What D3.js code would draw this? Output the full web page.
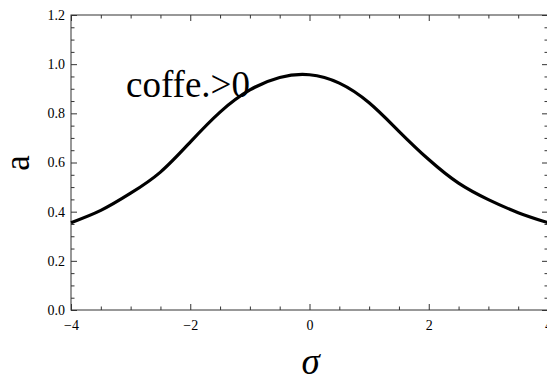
<!DOCTYPE html>
<html>
<head>
<meta charset="utf-8">
<script src="https://cdn.jsdelivr.net/npm/d3@7"></script>
<style>
  html, body { margin: 0; padding: 0; background: #fff; }
  svg { display: block; }
</style>
</head>
<body>
<svg id="chart" width="547" height="381"></svg>
<script>
// sigma samples and the curve a(sigma)
const sigmaValues = [-4, -3.5, -3, -2.5, -2, -1.5, -1, -0.5, 0, 0.5, 1, 1.5, 2, 2.5, 3, 3.5, 4];
const aValues     = [0.355, 0.405, 0.475, 0.561, 0.683, 0.805, 0.895, 0.946, 0.957, 0.923, 0.843, 0.727, 0.612, 0.516, 0.449, 0.396, 0.355];

const xMajorTicks = [-4, -2, 0, 2, 4];
const yMajorTicks = [0, 0.2, 0.4, 0.6, 0.8, 1.0, 1.2];
const xDomain = [-4, 4];
const yDomain = [0, 1.2];

const annotation = "coffe.>0";
const xTitle = "σ";
const yTitle = "a";

const serif = "'Liberation Serif', 'Times New Roman', Times, serif";

const svg = d3.select("#chart").attr("font-family", serif);
const plotLeft = 71, plotRight = 548, plotTop = 15, plotBottom = 310;

const x = d3.scaleLinear().domain(xDomain).range([plotLeft, plotRight]);
const y = d3.scaleLinear().domain(yDomain).range([plotBottom, plotTop]);

const xMinor = d3.range(-4, 4.0001, 0.5).filter(v => !xMajorTicks.some(t => Math.abs(t - v) < 1e-9));
const yMinor = d3.range(0, 1.2001, 0.05).filter(v => !yMajorTicks.some(t => Math.abs(t - v) < 1e-9));

const fmtY = d3.format(".1f");
const fmtX = v => (v < 0 ? "\u2212" + Math.abs(v) : String(v));

const frameColor = "#333";
const g = svg.append("g");

const plain = s => {
  s.attr("font-family", serif).attr("font-size", 14);
  s.select(".domain").remove();
  s.selectAll("line").attr("stroke", frameColor);
  s.selectAll("text").attr("fill", "#000");
};

// frame
g.append("rect")
  .attr("x", plotLeft).attr("y", plotTop)
  .attr("width", plotRight - plotLeft).attr("height", plotBottom - plotTop)
  .attr("fill", "none").attr("stroke", frameColor).attr("stroke-width", 1);

// bottom axis: inward ticks and labels
g.append("g").attr("transform", `translate(0,${plotBottom})`)
  .call(d3.axisBottom(x).tickValues(xMajorTicks).tickSizeInner(-6).tickSizeOuter(0).tickFormat(fmtX).tickPadding(10))
  .call(plain);
g.append("g").attr("transform", `translate(0,${plotBottom})`)
  .call(d3.axisBottom(x).tickValues(xMinor).tickSize(-3.5).tickFormat(""))
  .call(plain);

// top axis: inward ticks only
g.append("g").attr("transform", `translate(0,${plotTop})`)
  .call(d3.axisTop(x).tickValues(xMajorTicks).tickSize(-6).tickFormat(""))
  .call(plain);
g.append("g").attr("transform", `translate(0,${plotTop})`)
  .call(d3.axisTop(x).tickValues(xMinor).tickSize(-3.5).tickFormat(""))
  .call(plain);

// left axis: inward ticks and labels
g.append("g").attr("transform", `translate(${plotLeft},0)`)
  .call(d3.axisLeft(y).tickValues(yMajorTicks).tickSizeInner(-6).tickSizeOuter(0).tickFormat(fmtY).tickPadding(6))
  .call(plain);
g.append("g").attr("transform", `translate(${plotLeft},0)`)
  .call(d3.axisLeft(y).tickValues(yMinor).tickSize(-3.5).tickFormat(""))
  .call(plain);

// right axis: inward ticks only
g.append("g").attr("transform", `translate(${plotRight},0)`)
  .call(d3.axisRight(y).tickValues(yMajorTicks).tickSize(-6).tickFormat(""))
  .call(plain);
g.append("g").attr("transform", `translate(${plotRight},0)`)
  .call(d3.axisRight(y).tickValues(yMinor).tickSize(-3.5).tickFormat(""))
  .call(plain);

// curve
const pts = sigmaValues.map((s, i) => [s, aValues[i]]);
const line = d3.line().x(d => x(d[0])).y(d => y(d[1])).curve(d3.curveNatural);
g.append("path")
  .datum(pts)
  .attr("d", line)
  .attr("fill", "none")
  .attr("stroke", "#000")
  .attr("stroke-width", 3.2)
  .attr("stroke-linejoin", "round");

// annotation
g.append("text")
  .attr("x", 126).attr("y", 97)
  .attr("font-family", serif)
  .attr("font-size", 37)
  .text(annotation);

// axis titles
g.append("text")
  .attr("x", (plotLeft + plotRight) / 2 + 1).attr("y", 374)
  .attr("text-anchor", "middle")
  .attr("font-family", serif)
  .attr("font-size", 37).attr("font-style", "italic")
  .text(xTitle);

g.append("text")
  .attr("transform", `translate(29,163) rotate(-90)`)
  .attr("text-anchor", "middle")
  .attr("font-family", serif)
  .attr("font-size", 35)
  .text(yTitle);
</script>
</body>
</html>
